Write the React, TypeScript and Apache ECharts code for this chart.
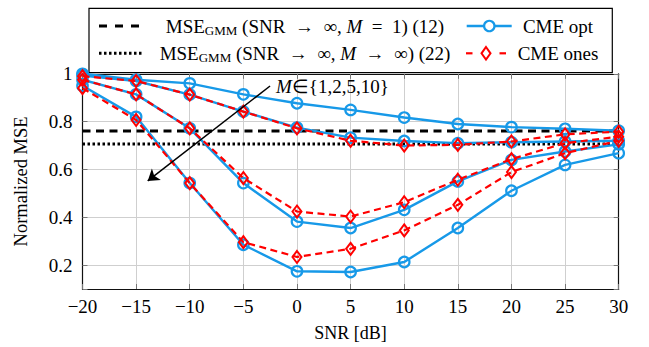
import React, { useEffect, useRef } from 'react';
import * as echarts from 'echarts';

// SNR [dB]
const snr = [-20, -15, -10, -5, 0, 5, 10, 15, 20, 25, 30];

// CME opt, M = 1, 2, 5, 10
const optM1 = [1.0, 0.975, 0.96, 0.914, 0.877, 0.849, 0.817, 0.79, 0.777, 0.77, 0.762];
const optM2 = [0.993, 0.97, 0.913, 0.842, 0.775, 0.733, 0.719, 0.71, 0.714, 0.717, 0.72];
const optM5 = [0.975, 0.914, 0.772, 0.543, 0.382, 0.355, 0.431, 0.55, 0.64, 0.675, 0.705];
const optM10 = [0.95, 0.82, 0.543, 0.285, 0.174, 0.171, 0.213, 0.355, 0.511, 0.619, 0.668];

// CME ones (visible curves)
const onesA = [0.99, 0.97, 0.913, 0.842, 0.772, 0.72, 0.7, 0.703, 0.717, 0.747, 0.758];
const onesB = [0.975, 0.914, 0.772, 0.564, 0.424, 0.403, 0.463, 0.557, 0.643, 0.71, 0.737];
const onesC = [0.94, 0.807, 0.543, 0.296, 0.234, 0.268, 0.345, 0.452, 0.589, 0.668, 0.72];

// MSE_GMM references
const mseGmmM1 = 0.761;
const mseGmmMinf = 0.706;

const xTicks = [-20, -15, -10, -5, 0, 5, 10, 15, 20, 25, 30];

const FONT = 'Liberation Serif';
const BLUE = '#1799e8';
const RED = '#ff0000';
const SP = '\u2002';

export default function App() {
  const ref = useRef<HTMLDivElement>(null);

  useEffect(() => {
    const chart = echarts.init(ref.current!, null, { renderer: 'svg' });
    const toPts = (v: number[]) => snr.map((x, i) => [x, v[i]]);

    const blue = (name: string, v: number[]) => ({
      name,
      type: 'line',
      data: toPts(v),
      symbol: 'circle',
      symbolSize: 10.5,
      itemStyle: { color: 'rgba(0,0,0,0)', borderColor: BLUE, borderWidth: 2.2 },
      lineStyle: { color: BLUE, width: 2.4 },
      z: 3,
      silent: true,
    });
    const red = (name: string, v: number[]) => ({
      name,
      type: 'line',
      data: toPts(v),
      symbol: 'diamond',
      symbolSize: [9, 12],
      itemStyle: { color: 'rgba(0,0,0,0)', borderColor: RED, borderWidth: 2 },
      lineStyle: { color: RED, width: 2.2, type: [7, 4.5] },
      z: 4,
      silent: true,
    });

    const xBase = {
      type: 'value',
      min: xTicks[0],
      max: xTicks[xTicks.length - 1],
      interval: 5,
      axisLine: { show: true, onZero: false, lineStyle: { color: '#111', width: 1.2 } },
      axisTick: { show: true, inside: true, length: 5, lineStyle: { color: '#777', width: 1 } },
    };
    const yBase = {
      type: 'value',
      min: 0.1,
      max: 1.0,
      splitNumber: 5,
      axisLine: { show: true, onZero: false, lineStyle: { color: '#111', width: 1.2 } },
      axisTick: { show: true, inside: true, length: 5, lineStyle: { color: '#777', width: 1 } },
    };

    const textBase = (x: number, y: number, text: string, align: string, size: number, rich?: any) => ({
      type: 'text',
      x,
      y,
      style: {
        text,
        fontFamily: FONT,
        fontSize: size,
        fill: '#000',
        align,
        verticalAlign: 'middle',
        textAlign: align,
        textVerticalAlign: 'middle',
        rich,
      },
    });
    const legendRich = {
      sub: { fontSize: 13, fontFamily: FONT, verticalAlign: 'bottom', lineHeight: 21 },
      i: { fontStyle: 'italic', fontFamily: FONT, fontSize: 19 },
    };

    const option: any = {
      animation: false,
      backgroundColor: '#ffffff',
      textStyle: { fontFamily: FONT },
      grid: { left: 82.5, right: 30.3, top: 73.8, bottom: 57.7 },
      xAxis: [
        {
          ...xBase,
          position: 'bottom',
          name: 'SNR [dB]',
          nameLocation: 'middle',
          nameGap: 35,
          nameTextStyle: { fontFamily: FONT, fontSize: 18, color: '#000' },
          axisLabel: {
            fontFamily: FONT,
            fontSize: 19,
            color: '#000',
            margin: 8,
            formatter: (v: number) => (v < 0 ? '\u2212' + Math.abs(v) : String(v)),
          },
          splitLine: { show: true, lineStyle: { color: '#cfcfcf', width: 1 } },
        },
        {
          ...xBase,
          position: 'top',
          axisLabel: { show: false },
          splitLine: { show: false },
        },
      ],
      yAxis: [
        {
          ...yBase,
          position: 'left',
          name: 'Normalized MSE',
          nameLocation: 'middle',
          nameGap: 52,
          nameTextStyle: { fontFamily: FONT, fontSize: 18.5, color: '#000' },
          axisLabel: {
            fontFamily: FONT,
            fontSize: 19,
            color: '#000',
            margin: 10,
            formatter: (v: number) => (Math.abs(v - 0.1) < 1e-6 ? '' : String(Math.round(v * 10) / 10)),
          },
          splitLine: { show: true, lineStyle: { color: '#cfcfcf', width: 1 } },
        },
        {
          ...yBase,
          position: 'right',
          axisLabel: { show: false },
          splitLine: { show: false },
        },
      ],
      series: [
        {
          name: 'MSE_GMM M=1',
          type: 'line',
          data: [[xTicks[0], mseGmmM1], [xTicks[xTicks.length - 1], mseGmmM1]],
          symbol: 'none',
          lineStyle: { color: '#000', width: 3, type: [8, 5.5] },
          z: 2,
          silent: true,
          markLine: {
            silent: true,
            symbol: ['none', 'arrow'],
            symbolSize: 11,
            label: { show: false },
            lineStyle: { color: '#000', width: 1.5, type: 'solid' },
            data: [[{ coord: [-2.51, 0.949] }, { coord: [-13.92, 0.552] }]],
          },
        },
        {
          name: 'MSE_GMM M=inf',
          type: 'line',
          data: [[xTicks[0], mseGmmMinf], [xTicks[xTicks.length - 1], mseGmmMinf]],
          symbol: 'none',
          lineStyle: { color: '#000', width: 3, type: [2.5, 2.5] },
          z: 2,
          silent: true,
        },
        blue('CME opt M=1', optM1),
        blue('CME opt M=2', optM2),
        blue('CME opt M=5', optM5),
        blue('CME opt M=10', optM10),
        red('CME ones A', onesA),
        red('CME ones B', onesB),
        red('CME ones C', onesC),
      ],
      graphic: [
        {
          ...textBase(276, 86, '{i|M}\u2208{1,2,5,10}', 'left', 19, {
            i: { fontStyle: 'italic', fontFamily: FONT, fontSize: 19 },
          }),
          z: 20,
        },
        {
          type: 'group',
          z: 50,
          children: [
            {
              type: 'rect',
              shape: { x: 89, y: 8.3, width: 523.3, height: 64.4 },
              style: { fill: '#fff', stroke: '#000', lineWidth: 1.2 },
            },
            {
              type: 'line',
              shape: { x1: 99, y1: 26, x2: 139.5, y2: 26 },
              style: { stroke: '#000', lineWidth: 3, lineDash: [8, 8] },
            },
            {
              type: 'line',
              shape: { x1: 99, y1: 53.3, x2: 143.5, y2: 53.3 },
              style: { stroke: '#000', lineWidth: 3, lineDash: [2.5, 2.5] },
            },
            textBase(
              305,
              26,
              'MSE{sub|GMM} (SNR' + SP + '\u2192' + SP + '\u221E, {i|M}' + SP + '=' + SP + '1) (12)',
              'center',
              19,
              legendRich
            ),
            textBase(
              305,
              53.3,
              'MSE{sub|GMM} (SNR' + SP + '\u2192' + SP + '\u221E, {i|M}' + SP + '\u2192' + SP + '\u221E) (22)',
              'center',
              19,
              legendRich
            ),
            {
              type: 'line',
              shape: { x1: 466.7, y1: 26, x2: 511.7, y2: 26 },
              style: { stroke: BLUE, lineWidth: 2.4 },
            },
            {
              type: 'circle',
              shape: { cx: 489.3, cy: 26, r: 5.2 },
              style: { fill: '#fff', stroke: BLUE, lineWidth: 2.2 },
            },
            textBase(558, 26, 'CME opt', 'center', 19),
            {
              type: 'line',
              shape: { x1: 466, y1: 53.3, x2: 472.5, y2: 53.3 },
              style: { stroke: RED, lineWidth: 2.2 },
            },
            {
              type: 'line',
              shape: { x1: 499.5, y1: 53.3, x2: 506, y2: 53.3 },
              style: { stroke: RED, lineWidth: 2.2 },
            },
            {
              type: 'polygon',
              shape: { points: [[486, 47], [490.5, 53.3], [486, 59.6], [481.5, 53.3]] },
              style: { fill: '#fff', stroke: RED, lineWidth: 2 },
            },
            textBase(558, 53.3, 'CME ones', 'center', 19),
          ],
        },
      ],
    };

    chart.setOption(option);
    return () => chart.dispose();
  }, []);

  return (
    <div
      ref={ref}
      style={{ position: 'fixed', left: 0, top: 0, width: 649, height: 347, background: '#fff' }}
    />
  );
}
